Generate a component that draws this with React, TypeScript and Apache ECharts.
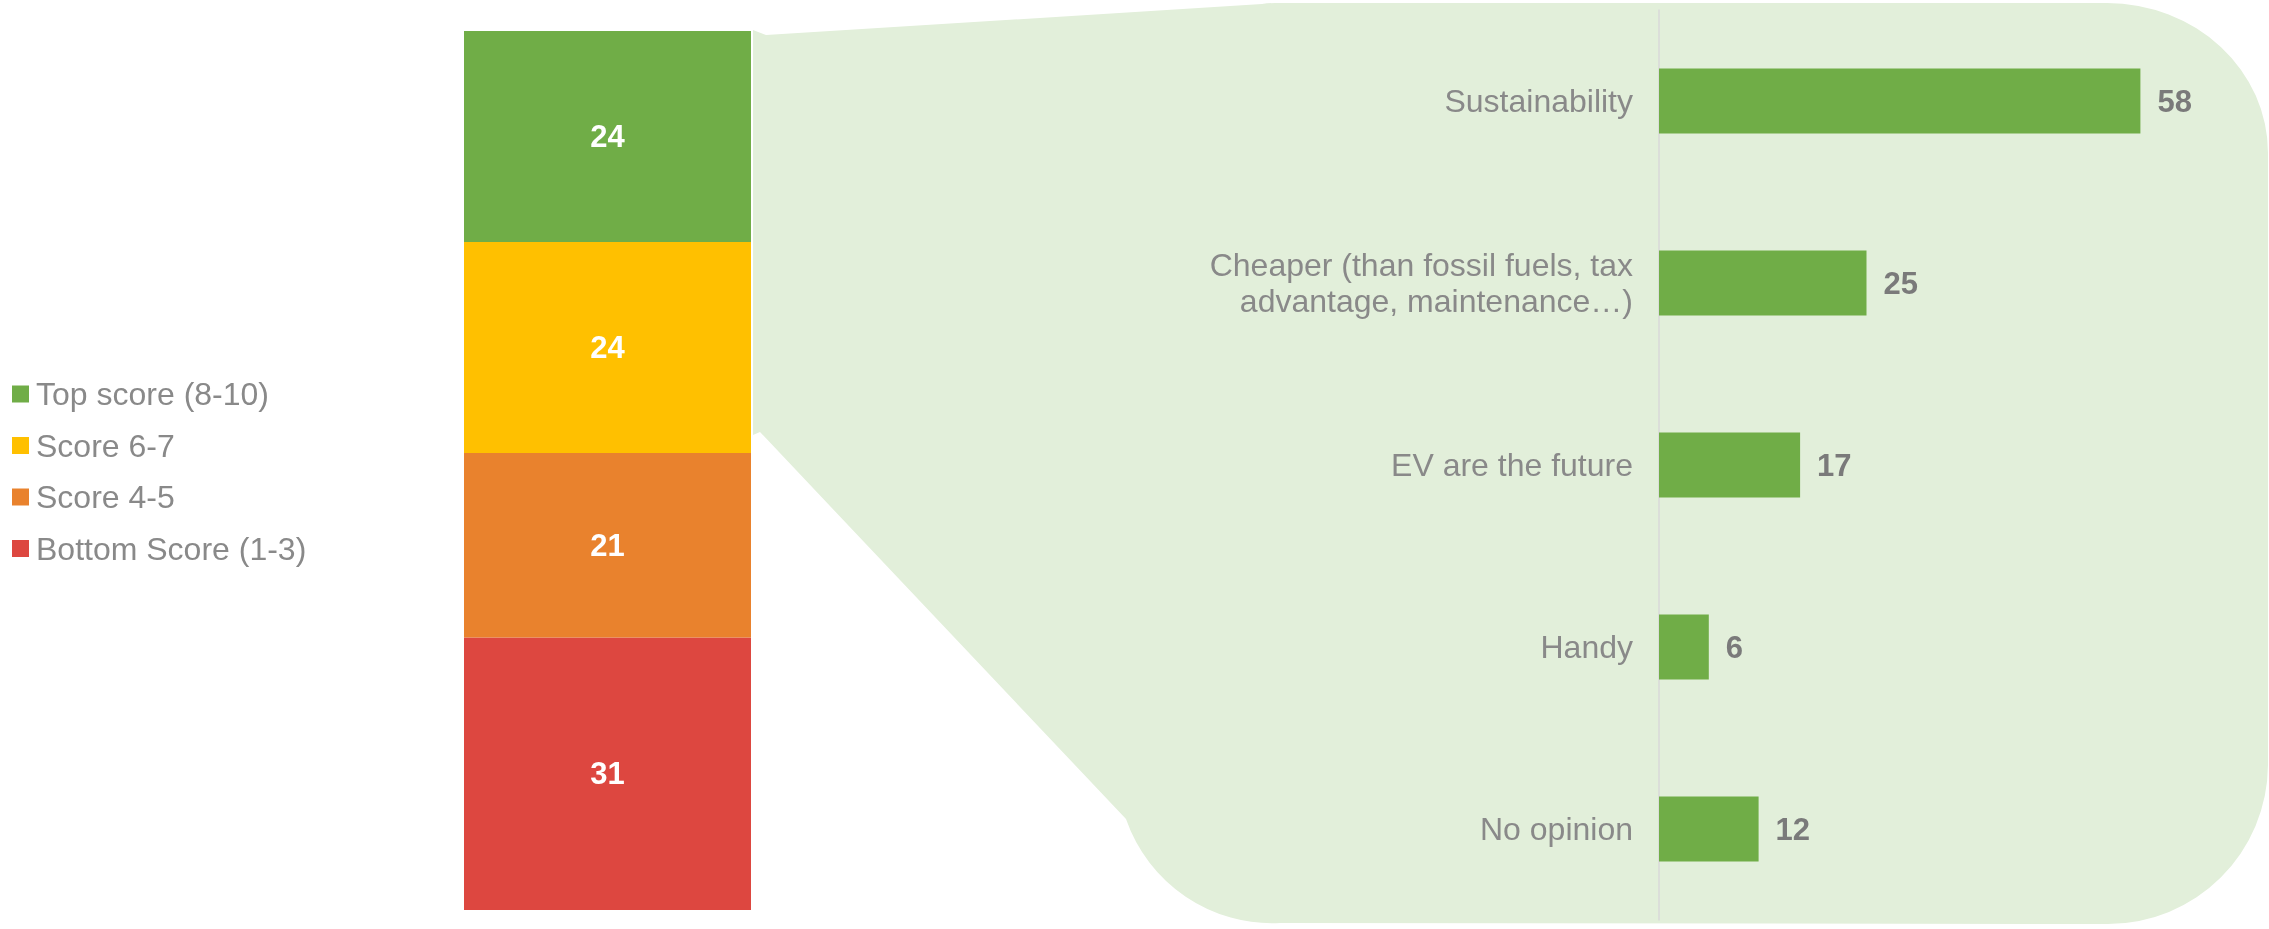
import React, { useEffect, useRef } from "react";
import * as echarts from "echarts";

const scoreNames = ["Top score (8-10)", "Score 6-7", "Score 4-5", "Bottom Score (1-3)"];
const scoreValues = [24, 24, 21, 31];
const scoreColors = ["#70AD47", "#FFC000", "#E9822D", "#DD4740"];

const reasonCategories = [
  "Sustainability",
  "Cheaper (than fossil fuels, tax\nadvantage, maintenance…)",
  "EV are the future",
  "Handy",
  "No opinion",
];
const reasonValues = [58, 25, 17, 6, 12];

const panelPath =
  "M 753 30 L 766 35 L 1262 4 Q 1268 3 1275 3 L 2107 3 A 161 150 0 0 1 2268 153 L 2268 765 A 160 160 0 0 1 2108 924 L 1280 923 A 155 155 0 0 1 1126 819 L 760 432 L 753 435 Z";

let registered = false;

export default function App() {
  const ref = useRef<HTMLDivElement>(null);
  useEffect(() => {
    if (!ref.current) return;
    if (!registered) {
      echarts.graphic.registerShape("panel", echarts.graphic.extendPath(panelPath, {}));
      registered = true;
    }
    const chart = echarts.init(ref.current, null, { renderer: "svg" });
    const font = "'Liberation Sans', Arial, sans-serif";
    const stackSeries = [3, 2, 1, 0].map((i) => ({
      name: scoreNames[i],
      type: "bar",
      stack: "s",
      xAxisIndex: 0,
      yAxisIndex: 0,
      barWidth: "100%",
      data: [scoreValues[i]],
      itemStyle: { color: scoreColors[i] },
      label: {
        show: true,
        position: "inside",
        color: "#ffffff",
        fontWeight: "bold",
        fontSize: 31,
        fontFamily: font,
      },
      z: 3,
    }));
    chart.setOption({
      animation: false,
      textStyle: { fontFamily: font },
      legend: {
        orient: "vertical",
        left: 7,
        top: 371,
        data: scoreNames,
        icon: "rect",
        itemWidth: 17,
        itemHeight: 17,
        itemGap: 15.5,
        selectedMode: false,
        textStyle: {
          color: "#898989",
          fontSize: 32,
          fontFamily: font,
          lineHeight: 36,
          padding: [0, 0, 0, 2],
        },
      },
      graphic: {
        elements: [
          {
            type: "panel",
            x: 0,
            y: 0,
            z: -1,
            silent: true,
            style: { fill: "#E2EFDA" },
          },
        ],
      },
      grid: [
        { left: 464, top: 31, width: 287, height: 879 },
        { left: 1659, top: 10, width: 581, height: 910 },
      ],
      xAxis: [
        { type: "category", gridIndex: 0, data: [""], show: false },
        { type: "value", gridIndex: 1, min: 0, max: 70, show: false },
      ],
      yAxis: [
        { type: "value", gridIndex: 0, min: 0, max: 100, show: false },
        {
          type: "category",
          gridIndex: 1,
          data: reasonCategories,
          inverse: true,
          axisLine: { show: true, lineStyle: { color: "#D9D9D9", width: 1.5 } },
          axisTick: { show: false },
          axisLabel: {
            color: "#898989",
            fontSize: 32,
            fontFamily: font,
            lineHeight: 36,
            margin: 26,
            align: "right",
          },
        },
      ],
      series: [
        ...stackSeries,
        {
          type: "bar",
          xAxisIndex: 1,
          yAxisIndex: 1,
          data: reasonValues,
          barWidth: 65,
          itemStyle: { color: "#70AD47" },
          label: {
            show: true,
            position: "right",
            distance: 17,
            color: "#7A7A7A",
            fontWeight: "bold",
            fontSize: 31,
            fontFamily: font,
          },
          z: 3,
        },
      ],
    });
    return () => chart.dispose();
  }, []);
  return (
    <div
      ref={ref}
      style={{ position: "fixed", left: 0, top: 0, width: 2269, height: 929 }}
    />
  );
}
